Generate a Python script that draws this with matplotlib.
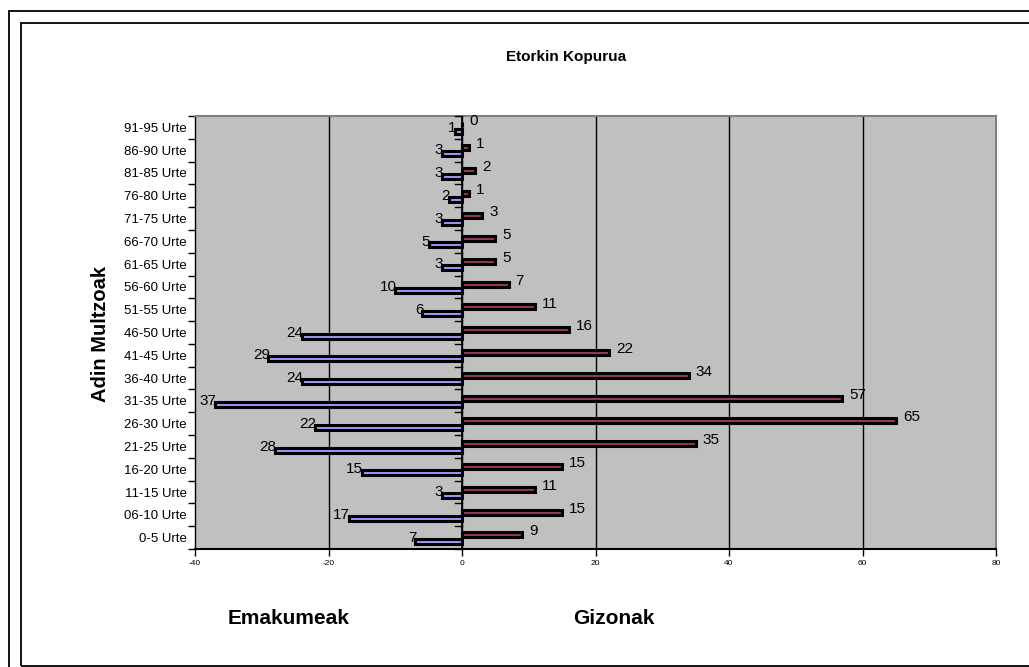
import matplotlib.pyplot as plt
from matplotlib.patches import Rectangle
import numpy as np

plt.rcParams['font.family'] = ['Liberation Sans', 'DejaVu Sans']

# Age groups, bottom to top.
age_groups = ["0-5 Urte", "06-10 Urte", "11-15 Urte", "16-20 Urte", "21-25 Urte",
              "26-30 Urte", "31-35 Urte", "36-40 Urte", "41-45 Urte", "46-50 Urte",
              "51-55 Urte", "56-60 Urte", "61-65 Urte", "66-70 Urte", "71-75 Urte",
              "76-80 Urte", "81-85 Urte", "86-90 Urte", "91-95 Urte"]
emakumeak = [7, 17, 3, 15, 28, 22, 37, 24, 29, 24, 6, 10, 3, 5, 3, 2, 3, 3, 1]
gizonak   = [9, 15, 11, 15, 35, 65, 57, 34, 22, 16, 11, 7, 5, 5, 3, 1, 2, 1, 0]
x_ticks   = [-40, -20, 0, 20, 40, 60, 80]

W, H = 1029, 667
fig = plt.figure(figsize=(W / 100, H / 100), dpi=100)
fig.patch.set_facecolor("white")

# Plot area in pixel coordinates.
left, right, top, bottom = 195, 996, 116, 549
ax = fig.add_axes([left / W, (H - bottom) / H, (right - left) / W, (bottom - top) / H])
ax.set_facecolor("#C0C0C0")

y = np.arange(len(age_groups))
bar_h = 0.22
shift = -0.02
ax.barh(y + shift - 0.14, [-v for v in emakumeak], height=bar_h,
        color="#9999FF", edgecolor="black", linewidth=2.2, zorder=3)
ax.barh(y + shift + 0.14, gizonak, height=bar_h,
        color="#993366", edgecolor="black", linewidth=2.2, zorder=3)

# Data labels.
for i, v in enumerate(emakumeak):
    ax.annotate(str(v), (-v, i + shift - 0.14), xytext=(1, 2.5),
                textcoords="offset points", ha="right", va="center",
                fontsize=11, zorder=4)
for i, v in enumerate(gizonak):
    ax.annotate(str(v), (v, i + shift + 0.14), xytext=(5, 2.5),
                textcoords="offset points", ha="left", va="center",
                fontsize=11, zorder=4)

ax.set_xlim(-40, 80)
ax.set_ylim(-0.5, len(age_groups) - 0.5)

# Vertical gridlines and the category axis at zero.
for xv in x_ticks[1:-1]:
    ax.axvline(xv, color="black", linewidth=1, zorder=1)
ax.axvline(0, color="black", linewidth=1.2, zorder=4)
for b in np.arange(-0.5, len(age_groups), 1):
    ax.plot([-1.1, 0], [b, b], color="black", linewidth=1, zorder=4, clip_on=False)

ax.set_xticks(x_ticks)
ax.set_xticklabels([str(v) for v in x_ticks], fontsize=6)
ax.tick_params(axis="x", direction="out", length=5, width=1, pad=3)

ax.set_yticks(y)
ax.set_yticklabels(age_groups, fontsize=9.5)
ax.tick_params(axis="y", which="major", length=0, pad=6)
ax.set_yticks(np.arange(-0.5, len(age_groups), 1), minor=True)
ax.tick_params(axis="y", which="minor", direction="out", length=5, width=1)

for side in ["top", "right"]:
    ax.spines[side].set_color("#808080")
    ax.spines[side].set_linewidth(1.5)
ax.spines["left"].set_color("black")
ax.spines["bottom"].set_color("black")
ax.spines["left"].set_linewidth(1)
ax.spines["bottom"].set_linewidth(1.5)

# Titles and side texts.
fig.text(566 / W, 1 - 57 / H, "Etorkin Kopurua", ha="center", va="center",
         fontsize=11, fontweight="bold")
fig.text(100 / W, 1 - 334 / H, "Adin Multzoak", ha="center", va="center",
         rotation=90, fontsize=14.5, fontweight="bold")
fig.text(228 / W, 1 - 618 / H, "Emakumeak", ha="left", va="center",
         fontsize=15, fontweight="bold")
fig.text(573 / W, 1 - 618 / H, "Gizonak", ha="left", va="center",
         fontsize=15, fontweight="bold")

# Double frame around the chart.
def px_rect(x0, y0, x1, y1, lw):
    fig.add_artist(Rectangle((x0 / W, 1 - y1 / H), (x1 - x0) / W, (y1 - y0) / H,
                             transform=fig.transFigure, fill=False,
                             edgecolor="black", linewidth=lw))

px_rect(8.5, 10.5, 1040, 680, 1.3)
px_rect(20.5, 22.5, 1040, 665.5, 1.3)

fig.savefig("out.png", dpi=100)
